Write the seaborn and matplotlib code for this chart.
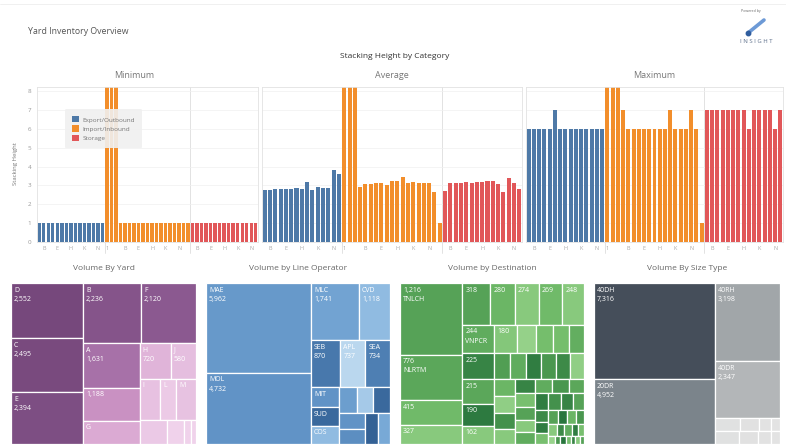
import matplotlib
matplotlib.use("Agg")
import matplotlib.pyplot as plt
from matplotlib.patches import Rectangle
from matplotlib.colors import Normalize
from matplotlib.transforms import blended_transform_factory
import seaborn as sns
import numpy as np
import pandas as pd

# ---------------- stacking height by category ----------------
categories = ["Export/Outbound", "Import/Inbound", "Storage"]
cat_colors = ["#4e79a7", "#f28e2b", "#e15759"]

export_blocks = list("ABCDEFGHIJKLMNO")
import_blocks = ["1", "2", "3"] + list("ABCDEFGHIJKLMNOP")
storage_blocks = list("ABCDEFGHIJKLMNO")
shown_ticks = {"1", "B", "E", "H", "K", "N"}

min_export = [1, 1, 1, 1, 1, 1, 1, 1, 1, 1, 1, 1, 1, 1, 1]
min_import = [9, 9, 9, 1, 1, 1, 1, 1, 1, 1, 1, 1, 1, 1, 1, 1, 1, 1, 1]
min_storage = [1, 1, 1, 1, 1, 1, 1, 1, 1, 1, 1, 1, 1, 1, 1]

avg_export = [2.75, 2.75, 2.78, 2.78, 2.78, 2.78, 2.84, 2.80, 3.19, 2.75, 2.93, 2.84, 2.87, 3.81, 3.60]
avg_import = [9, 9, 9, 2.93, 3.07, 3.07, 3.10, 3.10, 3.01, 3.24, 3.24, 3.42, 3.14, 3.19, 3.14, 3.10, 3.14, 2.66, 0.98]
avg_storage = [2.71, 3.10, 3.14, 3.10, 3.19, 3.14, 3.19, 3.19, 3.24, 3.24, 3.07, 2.66, 3.37, 3.14, 2.78]

max_export = [6, 6, 6, 6, 6, 7, 6, 6, 6, 6, 6, 6, 6, 6, 6]
max_import = [9, 9, 9, 7, 6, 6, 6, 6, 6, 6, 6, 6, 7, 6, 6, 6, 7, 6, 1]
max_storage = [7, 7, 7, 7, 7, 7, 7, 7, 6, 7, 7, 7, 7, 6, 7]

# ---------------- treemaps ----------------
yard_names = ["D", "C", "E", "B", "F", "A", "", "G", "H", "J", "I", "L", "M", "", "", "", ""]
yard_volume = [2552, 2495, 2394, 2236, 2120, 1631, 1188, 850, 720, 580, 540, 420, 520, 430, 260, 110, 78]

op_names = ["MAE", "MOL", "MLC", "CVD", "SEB", "APL", "SEA", "MIT", "SUD", "COS",
            "", "", "", "", "", "", ""]
op_volume = [5962, 4732, 1741, 1118, 870, 737, 734, 360, 330, 320, 290, 275, 274, 260, 250, 245, 240]
op_shade = [0.55, 0.6, 0.45, 0.25, 0.8, 0.05, 0.75, 0.6, 0.9, 0.25, 0.5, 0.15, 0.9, 0.6, 0.65, 0.95, 0.4]

dest_names = ["TNLCH", "NLRTM", "", "", "", "", "", "", "", "VNPCR"] + [""] * 50
dest_volume = [1216, 776, 415, 327,
               318, 280, 274, 269, 248,
               244, 180, 142, 128, 124, 118,
               225, 118, 112, 108, 106, 102, 98,
               215, 190, 162,
               95, 92, 88, 85,
               78, 66, 64, 58,
               75, 70, 66, 63,
               60, 55, 52, 50,
               45, 42, 40,
               38, 35, 33, 30,
               28, 26, 24, 22, 20,
               14, 13, 12, 11, 10, 10, 9]
dest_shade = [0.6, 0.55, 0.35, 0.2,
              0.6, 0.4, 0.2, 0.35, 0.2,
              0.5, 0.22, 0.12, 0.32, 0.32, 0.48,
              0.85, 0.65, 0.5, 0.9, 0.7, 0.8, 0.15,
              0.55, 0.92, 0.2,
              0.4, 0.15, 0.75, 0.2,
              0.85, 0.5, 0.7, 0.55,
              0.3, 0.6, 0.2, 0.5,
              0.9, 0.75, 0.85, 0.6,
              0.8, 0.9, 0.3,
              0.6, 0.95, 0.4, 0.7,
              0.2, 0.8, 0.5, 0.9, 0.3,
              0.1, 0.7, 0.95, 0.3, 0.85, 0.2, 0.6]

size_names = ["40DH", "20DR", "40RH", "40DR", "", "", "", "", "", "", "", ""]
size_volume = [7316, 4952, 3198, 2347, 200, 160, 100, 70, 190, 150, 100, 75]

# strips of the treemap layouts (orientation, number of cells)
yard_groups = [("col", 3), ("row", 2), ("col", 3), ("row", 2), ("row", 3), ("row", 4)]
op_groups = [("col", 2), ("row", 2), ("row", 3), ("col", 3), ("row", 3), ("col", 2), ("row", 2)]
dest_groups = [("col", 4), ("row", 5), ("row", 6), ("row", 7), ("col", 3), ("col", 4), ("row", 4),
               ("col", 4), ("row", 4), ("col", 3), ("row", 4), ("row", 5), ("row", 7)]
size_groups = [("col", 2), ("row", 1), ("row", 1), ("row", 4), ("row", 4)]

sns.set_theme(style="white")
plt.rcParams["font.family"] = ["Open Sans", "DejaVu Sans"]

W, H = 786, 444
fig = plt.figure(figsize=(W / 100, H / 100), dpi=100)


def px_axes(x0, y0, x1, y1):
    return fig.add_axes([x0 / W, 1 - y1 / H, (x1 - x0) / W, (y1 - y0) / H])


def fig_text(x, y, s, **kw):
    fig.text(x / W, 1 - y / H, s, **kw)


fig.add_artist(plt.Line2D([0, 1], [1 - 4 / H, 1 - 4 / H], color="#eeeeee", lw=0.6))
fig_text(28, 32, "Yard Inventory Overview", fontsize=6.3, color="#555555", va="center")
fig_text(395, 56, "Stacking Height by Category", fontsize=6, color="#333333",
         ha="center", va="center")

# logo
lax = px_axes(735, 6, 781, 46)
lax.set_xlim(0, 46)
lax.set_ylim(40, 0)
lax.axis("off")
lax.text(16, 5, "Powered by", fontsize=2.6, color="#666666", ha="center", va="center")
lax.plot([13, 29], [27, 14], color="#6d9ad6", lw=2.6, solid_capstyle="round")
lax.plot([13], [27], marker="o", ms=3.2, color="#2f5d9e")
lax.text(21, 35, "I N S I G H T", fontsize=4.3, color="#5a6c88", ha="center", va="center")

# ---- bar data frame ----
rows = []
stats = {
    "Minimum": (min_export, min_import, min_storage),
    "Average": (avg_export, avg_import, avg_storage),
    "Maximum": (max_export, max_import, max_storage),
}
block_lists = [export_blocks, import_blocks, storage_blocks]
for stat, series in stats.items():
    for cat, blocks, vals in zip(categories, block_lists, series):
        for b, v in zip(blocks, vals):
            rows.append({"stat": stat, "category": cat, "block": b,
                         "slot": f"{cat}:{b}", "value": v})
df = pd.DataFrame(rows)
slot_order = [f"{c}:{b}" for c, bl in zip(categories, block_lists) for b in bl]
tick_labels = [b if b in shown_ticks else "" for bl in block_lists for b in bl]
bounds = np.cumsum([len(bl) for bl in block_lists])[:-1] - 0.5

panel_px = {"Minimum": (10, 37, 258), "Average": (262, 262, 522), "Maximum": (526, 526, 783)}
for stat, (tx, x0, x1) in panel_px.items():
    ax = px_axes(x0, 86.7, x1, 241.7)
    sns.barplot(data=df[df["stat"] == stat], x="slot", y="value", hue="category",
                order=slot_order, hue_order=categories, palette=cat_colors,
                dodge=False, width=0.76, saturation=1, linewidth=0,
                legend=(stat == "Minimum"), ax=ax)
    ax.set_xlim(-0.5, len(slot_order) - 0.5)
    ax.set_ylim(0, 8.25)
    ax.set_xticks(range(len(slot_order)))
    ax.set_xticklabels(tick_labels)
    ax.tick_params(axis="x", labelsize=4, colors="#aaaaaa", length=0, pad=3)
    ax.set_xlabel("")
    ax.set_ylabel("")
    ax.yaxis.grid(True, color="#f0f0f0", lw=0.5)
    ax.set_axisbelow(True)
    for sp in ax.spines.values():
        sp.set_color("#e2e2e2")
        sp.set_linewidth(0.6)
    trans = blended_transform_factory(ax.transData, ax.transAxes)
    for b in bounds:
        ax.plot([b, b], [-0.075, 1], color="#dddddd", lw=0.6, transform=trans,
                clip_on=False, zorder=0.5)
    if stat == "Minimum":
        ax.set_yticks(range(9))
        ax.tick_params(axis="y", labelsize=4.5, colors="#999999", length=0, pad=4)
        leg = ax.legend(loc="upper left", bbox_to_anchor=(0.112, 0.875), fontsize=4.6,
                        frameon=True, handlelength=1.1, handleheight=1.1, borderpad=1.1,
                        labelspacing=0.45, handletextpad=0.6)
        leg.get_frame().set_facecolor("#f0f0f0")
        leg.get_frame().set_edgecolor("none")
        leg.get_frame().set_alpha(0.9)
        for t in leg.get_texts():
            t.set_color("#777777")
    else:
        ax.set_yticks(range(9))
        ax.set_yticklabels([])
        ax.tick_params(axis="y", length=0)
    fig_text((tx + x1) / 2, 75, stat, fontsize=6.5, color="#777777", ha="center", va="center")

fig_text(15, 164, "Stacking Height", fontsize=4.3, color="#777777", rotation=90,
         ha="center", va="center")


# ---- treemaps ----
def strip_layout(values, groups, w, h):
    s = w * h / sum(values)
    x0, y0, rw, rh = 0.0, 0.0, float(w), float(h)
    rects, i = [], 0
    for orient, n in groups:
        vals = values[i:i + n]
        i += n
        area = sum(vals) * s
        if orient == "col":
            cw = area / rh
            y = y0
            for v in vals:
                ch = v * s / cw
                rects.append((x0, y, cw, ch))
                y += ch
            x0 += cw
            rw -= cw
        else:
            ch = area / rw
            x = x0
            for v in vals:
                cw = v * s / ch
                rects.append((x, y0, cw, ch))
                x += cw
            y0 += ch
            rh -= ch
    return rects


def draw_treemap(box, title, names, values, groups, colors, value_first=False):
    x0, y0, x1, y1 = box
    w, h = x1 - x0, y1 - y0
    ax = px_axes(x0, y0, x1, y1)
    ax.set_xlim(0, w)
    ax.set_ylim(h, 0)
    ax.axis("off")
    for (x, y, cw, ch), name, v, c in zip(strip_layout(values, groups, w, h), names, values, colors):
        ax.add_patch(Rectangle((x, y), cw, ch, facecolor=c, edgecolor="white", lw=0.9))
        lines = []
        if value_first:
            if cw >= 20 and ch >= 18:
                lines.append(f"{v:,}")
                if name and ch >= 26:
                    lines.append(name)
        else:
            if name and cw >= 12 and ch >= 10:
                lines.append(name)
            if cw >= 22 and ch >= 26:
                lines.append(f"{v:,}")
        if lines:
            ax.text(x + 3, y + 3.5, "\n".join(lines), fontsize=5, color="white",
                    ha="left", va="top", linespacing=1.45)
    fig_text((x0 + x1) / 2, 268, title, fontsize=6, color="#666666", ha="center", va="center")


purple = sns.blend_palette(["#f0d2eb", "#d39bca", "#9a659e", "#76487c"], as_cmap=True)
blue = sns.blend_palette(["#c4ddf1", "#7fb0dc", "#5a8cc0", "#2d5a8e"], as_cmap=True)
green = sns.blend_palette(["#a8dc9a", "#72bc6a", "#4f9c52", "#23703a"], as_cmap=True)
gray = sns.blend_palette(["#e4e4e4", "#b1b4b6", "#7d868d", "#454e5a"], as_cmap=True)

yard_norm = Normalize(300, max(yard_volume), clip=True)
size_norm = Normalize(0, max(size_volume), clip=True)

draw_treemap((11, 283, 196, 444), "Volume By Yard", yard_names, yard_volume, yard_groups,
             [purple(yard_norm(v)) for v in yard_volume])
draw_treemap((206, 283, 390, 444), "Volume by Line Operator", op_names, op_volume, op_groups,
             [blue(s) for s in op_shade])
draw_treemap((400, 283, 584, 444), "Volume by Destination", dest_names, dest_volume, dest_groups,
             [green(s) for s in dest_shade], value_first=True)
draw_treemap((594, 283, 780, 444), "Volume By Size Type", size_names, size_volume, size_groups,
             [gray(size_norm(v)) for v in size_volume])

fig.savefig("out.png", dpi=100)
